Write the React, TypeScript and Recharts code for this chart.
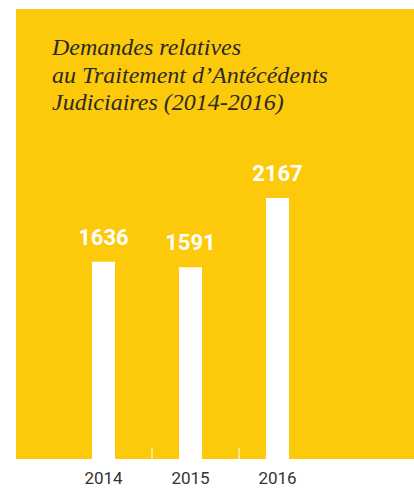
import React from "react";
import { BarChart, Bar, XAxis, YAxis, LabelList } from "recharts";

const years = ["2014", "2015", "2016"];
const demandes = [1636, 1591, 2167];
const titleLines = [
    "Demandes relatives",
    "au Traitement d\u2019Antécédents",
    "Judiciaires (2014-2016)",
];

const data = years.map((year, i) => ({ year, demandes: demandes[i] }));

const YELLOW = "#FDC90B";

const YearTick = (props: any) => {
    const { x, y, payload, index } = props;
    return (
        <g>
            {index < 2 && (
                <line x1={x + 48.5} x2={x + 48.5} y1={y - 11} y2={y} stroke="#ffffff" strokeWidth={1} />
            )}
            <text
                x={x}
                y={y + 25}
                textAnchor="middle"
                fill="#333333"
                fontSize={17}
                fontFamily="Roboto, sans-serif"
            >
                {payload.value}
            </text>
        </g>
    );
};

const App: React.FC = () => {
    return (
        <div style={{ position: "absolute", left: 0, top: 0, width: 414, height: 488, background: "#ffffff" }}>
            <div style={{ position: "absolute", left: 16, top: 9, width: 398, height: 450, background: YELLOW }} />
            <svg style={{ position: "absolute", left: 0, top: 0 }} width={414} height={130}>
                {titleLines.map((line, i) => (
                    <text
                        key={line}
                        x={52}
                        y={55 + i * 27.5}
                        fill="#2b2a27"
                        fontSize={24}
                        fontStyle="italic"
                        fontFamily="'Liberation Serif', serif"
                    >
                        {line}
                    </text>
                ))}
            </svg>
            <div style={{ position: "absolute", left: 0, top: 0 }}>
                <BarChart
                    width={414}
                    height={488}
                    data={data}
                    margin={{ top: 97.5, right: 93, bottom: 0, left: 60 }}
                >
                    <XAxis
                        dataKey="year"
                        height={29}
                        axisLine={false}
                        tickLine={false}
                        tickSize={0}
                        tickMargin={0}
                        interval={0}
                        tick={<YearTick />}
                    />
                    <YAxis hide domain={[0, 3000]} />
                    <Bar dataKey="demandes" fill="#ffffff" barSize={23} isAnimationActive={false}>
                        <LabelList
                            dataKey="demandes"
                            position="top"
                            offset={17}
                            fill="#ffffff"
                            fontSize={22}
                            fontWeight="bold"
                            fontFamily="Roboto, sans-serif"
                        />
                    </Bar>
                </BarChart>
            </div>
        </div>
    );
};

export default App;
